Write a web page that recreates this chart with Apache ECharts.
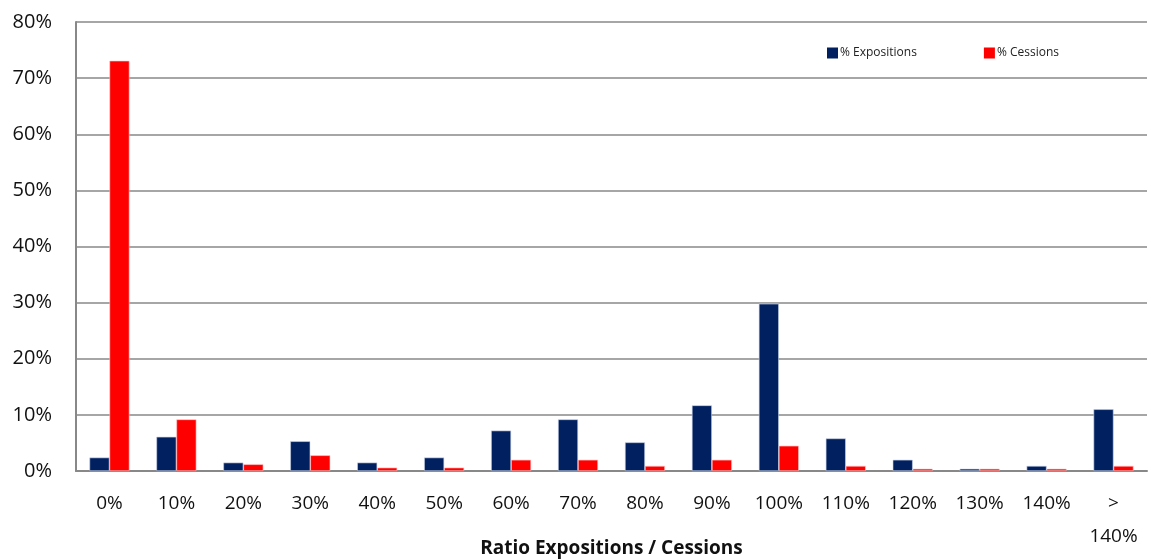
<!DOCTYPE html>
<html>
<head>
<meta charset="utf-8">
<script src="https://cdn.jsdelivr.net/npm/echarts@6/dist/echarts.min.js"></script>
<style>
  html, body { margin: 0; padding: 0; background: #fff; }
  #chart { width: 1151px; height: 559px; }
</style>
</head>
<body>
<div id="chart"></div>
<script>
// Ratio buckets on the x axis
const categories = ['0%', '10%', '20%', '30%', '40%', '50%', '60%', '70%', '80%', '90%', '100%', '110%', '120%', '130%', '140%', '>\n140%'];
// Share of exposures per bucket (%)
const expositions = [2.4, 6.1, 1.5, 5.3, 1.5, 2.4, 7.2, 9.2, 5.1, 11.7, 29.8, 5.8, 2.0, 0.4, 0.9, 11.0];
// Share of disposals per bucket (%)
const cessions = [73.1, 9.2, 1.2, 2.8, 0.6, 0.6, 2.0, 2.0, 0.9, 2.0, 4.5, 0.9, 0.4, 0.4, 0.4, 0.9];
const yTicks = { min: 0, max: 80, interval: 10 };

const FONT = '"Open Sans", "Liberation Sans", sans-serif';
const chart = echarts.init(document.getElementById('chart'), null, { renderer: 'canvas' });

chart.setOption({
  animation: false,
  grid: { left: 76, right: 4, top: 22, bottom: 88, containLabel: false, outerBoundsMode: 'none' },
  legend: {
    top: 42,
    left: 822,
    itemWidth: 11,
    itemHeight: 11,
    itemGap: 67,
    icon: 'rect',
    itemStyle: { borderWidth: 0 },
    textStyle: { fontFamily: FONT, fontSize: 12, color: '#222', padding: [0, 0, 0, -3] },
    data: ['% Expositions', '% Cessions']
  },
  xAxis: {
    type: 'category',
    data: categories,
    axisLine: { lineStyle: { color: '#888', width: 2 } },
    axisTick: { show: false },
    axisLabel: { color: '#111', fontFamily: FONT, fontSize: 19, margin: 16, lineHeight: 33, verticalAlign: 'top' },
    name: 'Ratio Expositions / Cessions',
    nameLocation: 'middle',
    nameGap: 68,
    nameMoveOverlap: false,
    nameTextStyle: { fontFamily: FONT, fontSize: 19, fontWeight: 'bold', color: '#111' }
  },
  yAxis: {
    type: 'value',
    min: yTicks.min,
    max: yTicks.max,
    interval: yTicks.interval,
    axisLine: { show: true, lineStyle: { color: '#888', width: 2 } },
    axisTick: { show: false },
    axisLabel: { formatter: '{value}%', color: '#111', fontFamily: FONT, fontSize: 20, margin: 24 },
    splitLine: { lineStyle: { color: '#888', width: 1.5 } }
  },
  series: [
    {
      name: '% Expositions',
      type: 'bar',
      data: expositions,
      barWidth: 20,
      barGap: '0%',
      itemStyle: { color: '#002060', borderColor: '#c8d2e6', borderWidth: 0.6 }
    },
    {
      name: '% Cessions',
      type: 'bar',
      data: cessions,
      barWidth: 20,
      barGap: '0%',
      itemStyle: { color: '#ff0000', borderColor: '#ffc8c8', borderWidth: 0.6 }
    }
  ]
});
</script>
</body>
</html>
